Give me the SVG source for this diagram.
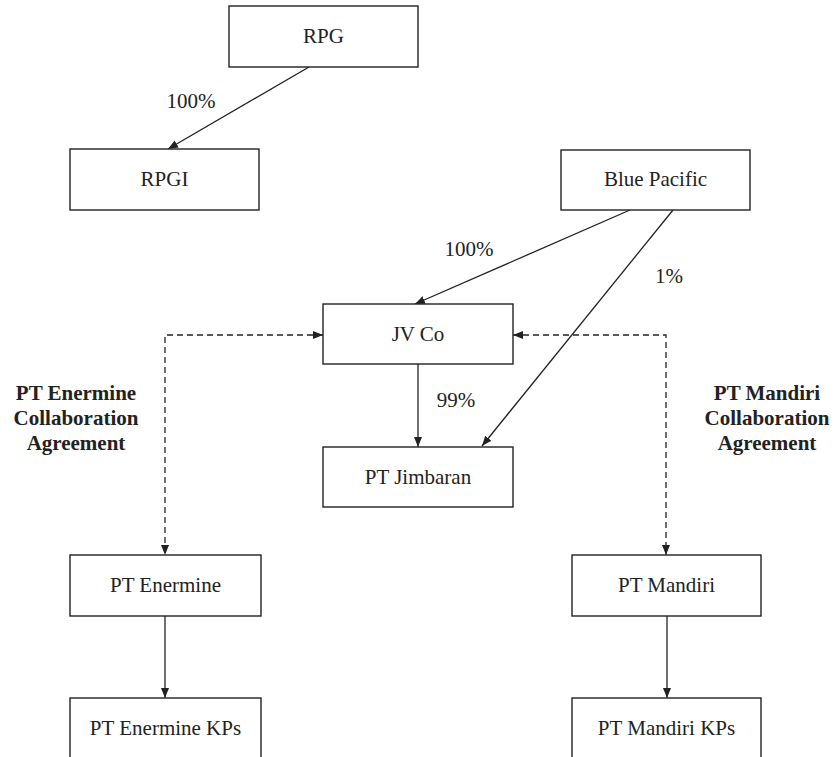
<svg xmlns="http://www.w3.org/2000/svg" width="836" height="757" viewBox="0 0 836 757" font-family="Liberation Serif, serif">
<defs>
<style>
.box{fill:#fff;stroke:#222;stroke-width:1.4}
.t{font-family:'Liberation Serif','Times New Roman',serif;font-size:21px;fill:#222;text-anchor:middle}
.b{font-weight:bold}
.ln{fill:none;stroke:#222;stroke-width:1.3}
.d{stroke-dasharray:6 4}
</style>
<marker id="ah" viewBox="0 0 10 10" refX="10" refY="5" markerWidth="10" markerHeight="10" markerUnits="userSpaceOnUse" orient="auto-start-reverse">
<path d="M0,1 L10,5 L0,9 Z" fill="#222"/>
</marker>
</defs>
<rect width="836" height="757" fill="#fff"/>
<g id="connectors">
<line class="ln" x1="309" y1="67" x2="168" y2="149" marker-end="url(#ah)"/>
<line class="ln" x1="630" y1="210" x2="415" y2="304" marker-end="url(#ah)"/>
<line class="ln" x1="673" y1="210" x2="482" y2="446" marker-end="url(#ah)"/>
<line class="ln" x1="418" y1="364" x2="418" y2="447" marker-end="url(#ah)"/>
<path class="ln d" d="M323,335 H165 V555" marker-start="url(#ah)" marker-end="url(#ah)"/>
<path class="ln d" d="M513,335 H666 V555" marker-start="url(#ah)" marker-end="url(#ah)"/>
<line class="ln" x1="165" y1="616" x2="165" y2="698" marker-end="url(#ah)"/>
<line class="ln" x1="667" y1="616" x2="667" y2="698" marker-end="url(#ah)"/>
<text class="t" x="191" y="108">100%</text>
<text class="t" x="469" y="256">100%</text>
<text class="t" x="669" y="283">1%</text>
<text class="t" x="456" y="407">99%</text>
</g>
<g id="rpg"><rect class="box" x="229" y="6" width="189" height="61"/><text class="t" x="323.5" y="43">RPG</text></g>
<g id="rpgi"><rect class="box" x="70" y="149" width="189" height="61"/><text class="t" x="164.5" y="186">RPGI</text></g>
<g id="blue-pacific"><rect class="box" x="561" y="150" width="189" height="60"/><text class="t" x="655.5" y="186">Blue Pacific</text></g>
<g id="jv-co"><rect class="box" x="323" y="304" width="190" height="60"/><text class="t" x="418" y="341">JV Co</text></g>
<g id="pt-jimbaran"><rect class="box" x="323" y="447" width="190" height="60"/><text class="t" x="418" y="484">PT Jimbaran</text></g>
<g id="pt-enermine"><rect class="box" x="70" y="555" width="191" height="61"/><text class="t" x="165.5" y="592">PT Enermine</text></g>
<g id="pt-mandiri"><rect class="box" x="572" y="555" width="189" height="61"/><text class="t" x="666.5" y="592">PT Mandiri</text></g>
<g id="pt-enermine-kps"><rect class="box" x="70" y="698" width="191" height="80"/><text class="t" x="165.5" y="735">PT Enermine KPs</text></g>
<g id="pt-mandiri-kps"><rect class="box" x="572" y="698" width="189" height="80"/><text class="t" x="666.5" y="735">PT Mandiri KPs</text></g>
<g id="enermine-label">
<text class="t b" x="76" y="400">PT Enermine</text>
<text class="t b" x="76" y="425">Collaboration</text>
<text class="t b" x="76" y="450">Agreement</text>
</g>
<g id="mandiri-label">
<text class="t b" x="767" y="400">PT Mandiri</text>
<text class="t b" x="767" y="425">Collaboration</text>
<text class="t b" x="767" y="450">Agreement</text>
</g>
</svg>
